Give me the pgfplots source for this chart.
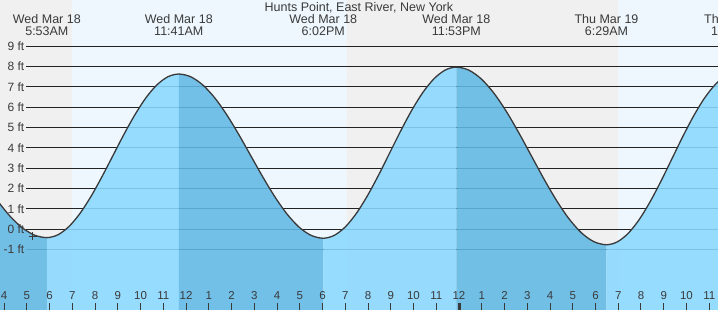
\documentclass[border=0pt]{standalone}
\usepackage{fontspec}
\setmainfont{Liberation Sans}
\usepackage{pgfplots}
\usepackage{pgfplotstable}
\pgfplotsset{compat=1.18}
\definecolor{night}{HTML}{F0F0F0}
\definecolor{day}{HTML}{EEF7FE}
\definecolor{wl}{RGB}{138,217,255}
\definecolor{wd}{RGB}{97,185,229}
\definecolor{txt}{HTML}{3A3A3A}
\definecolor{gridc}{HTML}{222222}
\pgfplotstableread{
t v
2.642 3.195
3.182 2.262
3.722 1.393
4.262 0.646
4.803 0.073
5.343 -0.287
5.883 -0.410
6.366 -0.273
6.850 0.129
7.333 0.768
7.816 1.600
8.300 2.570
8.783 3.610
9.266 4.651
9.750 5.620
10.233 6.453
10.716 7.091
11.200 7.493
11.683 7.630
12.212 7.493
12.741 7.089
13.271 6.448
13.800 5.613
14.329 4.639
14.858 3.595
15.387 2.551
15.916 1.578
16.446 0.742
16.975 0.101
17.504 -0.302
18.033 -0.440
18.521 -0.297
19.008 0.123
19.496 0.792
19.983 1.663
20.471 2.677
20.958 3.765
21.446 4.853
21.933 5.868
22.421 6.738
22.908 7.407
23.396 7.827
23.883 7.970
24.433 7.821
24.983 7.385
25.533 6.691
26.083 5.788
26.633 4.735
27.183 3.605
27.733 2.475
28.283 1.423
28.833 0.519
29.383 -0.175
29.933 -0.611
30.483 -0.760
30.963 -0.616
31.443 -0.193
31.922 0.479
32.402 1.355
32.882 2.375
33.362 3.470
33.841 4.565
34.321 5.585
34.801 6.461
35.281 7.133
35.760 7.556
36.240 7.700
}\tide
\newcommand{\hl}[2]{\node[font=\fontsize{11.5}{13}\selectfont, text=txt, anchor=base, inner sep=0pt] at (axis cs:#1,-3.44) {#2};}
\newcommand{\yl}[2]{\node[font=\fontsize{12}{14}\selectfont, text=txt, anchor=base east, inner sep=0pt, yshift=-4.3pt] at (axis cs:4.90,#1) {#2};}
\newcommand{\ev}[3]{%
  \node[font=\fontsize{12.5}{14}\selectfont, text=txt, anchor=base, inner sep=0pt] at (axis cs:#1,10.123) {#2};
  \node[font=\fontsize{12.5}{14}\selectfont, text=txt, anchor=base, inner sep=0pt] at (axis cs:#1,9.514) {#3};}
% water segment: #1 colour, #2 domain start, #3 domain end
\newcommand{\water}[3]{%
  \addplot[draw=none, fill=#1, fill opacity=0.88, smooth, restrict x to domain=#2:#3]
    table[x=t, y=v] {\tide} |- (axis cs:#2,-4.5) -- cycle;}
\begin{document}
\begin{tikzpicture}
\begin{axis}[name=ax,
  width=718pt, height=310pt, scale only axis,
  xmin=3.824, xmax=35.385, ymin=-3.966, ymax=11.268,
  hide axis, clip=true]
% day / night background
\fill[night] (axis cs:3,-5) rectangle (axis cs:6.99,12);
\fill[day] (axis cs:6.99,-5) rectangle (axis cs:19.07,12);
\fill[night] (axis cs:19.07,-5) rectangle (axis cs:30.99,12);
\fill[day] (axis cs:30.99,-5) rectangle (axis cs:37,12);
% grid lines
\pgfplotsinvokeforeach{-1,...,9}{
  \draw[gridc, line width=1pt] (axis cs:4.967,#1) -- (axis cs:36,#1);
}
% water: falling (dark) and rising (light)
\water{wd}{2.642}{5.883}
\water{wl}{5.883}{11.683}
\water{wd}{11.683}{18.033}
\water{wl}{18.033}{23.883}
\water{wd}{23.883}{30.483}
\water{wl}{30.483}{36.240}
% curve stroke
\addplot[color=txt, line width=1.3pt, smooth] table[x=t, y=v] {\tide};
% current time marker
\addplot[only marks, mark=+, mark size=4pt, color=txt, line width=0.9pt] coordinates {(5.27,-0.33)};
% y labels
\yl{9}{9 ft}\yl{8}{8 ft}\yl{7}{7 ft}\yl{6}{6 ft}\yl{5}{5 ft}
\yl{4}{4 ft}\yl{3}{3 ft}\yl{2}{2 ft}\yl{1}{1 ft}\yl{0}{0 ft}\yl{-1}{-1 ft}
% hour ticks
\pgfplotsinvokeforeach{4,...,23,25,26,...,35}{
  \draw[txt, line width=1pt] (axis cs:#1,-3.966) -- ++(0pt,7pt);
}
\draw[txt, line width=3pt] (axis cs:24,-3.966) -- ++(0pt,7pt);
\hl{4}{4}\hl{5}{5}\hl{6}{6}\hl{7}{7}\hl{8}{8}\hl{9}{9}\hl{10}{10}\hl{11}{11}
\hl{12}{12}\hl{13}{1}\hl{14}{2}\hl{15}{3}\hl{16}{4}\hl{17}{5}\hl{18}{6}\hl{19}{7}
\hl{20}{8}\hl{21}{9}\hl{22}{10}\hl{23}{11}\hl{24}{12}\hl{25}{1}\hl{26}{2}\hl{27}{3}
\hl{28}{4}\hl{29}{5}\hl{30}{6}\hl{31}{7}\hl{32}{8}\hl{33}{9}\hl{34}{10}\hl{35}{11}
% title and event labels
\node[font=\fontsize{12.5}{14}\selectfont, text=txt, anchor=base, inner sep=0pt] at (axis cs:19.6,10.70) {Hunts Point, East River, New York};
\ev{5.883}{Wed Mar 18}{5:53AM}
\ev{11.683}{Wed Mar 18}{11:41AM}
\ev{18.033}{Wed Mar 18}{6:02PM}
\ev{23.883}{Wed Mar 18}{11:53PM}
\ev{30.483}{Thu Mar 19}{6:29AM}
\ev{36.18}{Thu Mar 19}{12:13PM}
\end{axis}
\pgfresetboundingbox
\path (ax.south west) rectangle (ax.north east);
\end{tikzpicture}
\end{document}
